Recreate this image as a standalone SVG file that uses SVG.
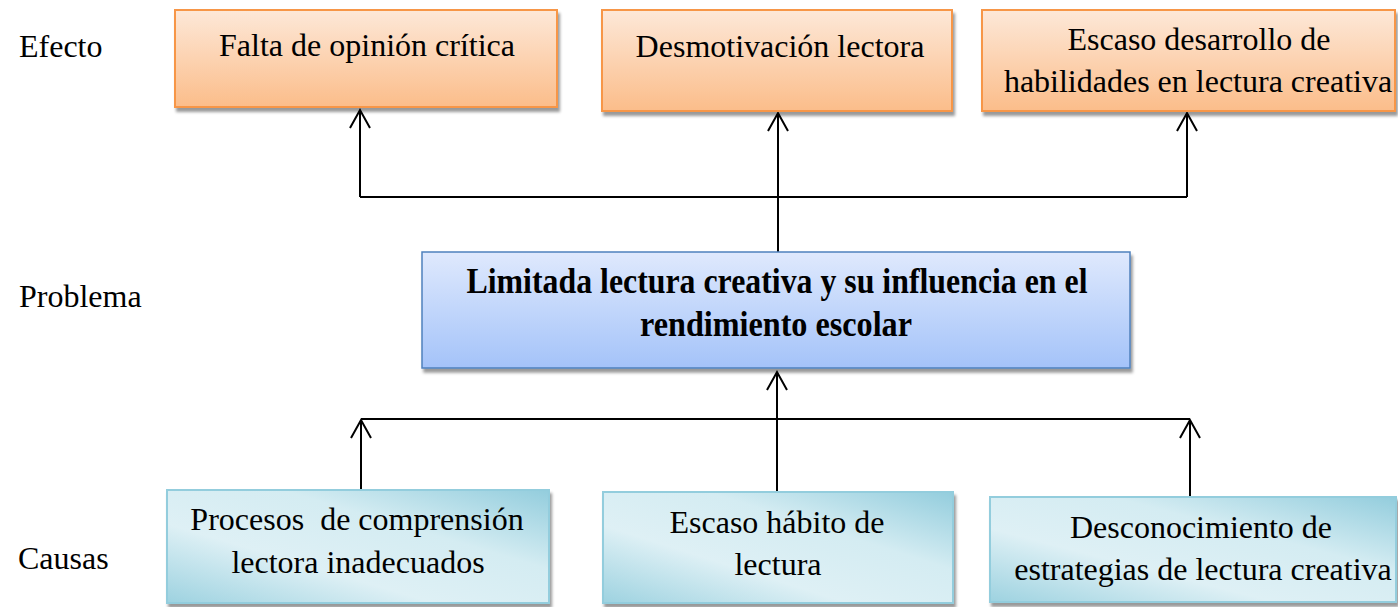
<svg xmlns="http://www.w3.org/2000/svg" width="1398" height="607" viewBox="0 0 1398 607">
<defs>
<linearGradient id="gOr" x1="0" y1="0" x2="0" y2="1">
<stop offset="0" stop-color="#fde8d8"/>
<stop offset="1" stop-color="#fbbd8a"/>
</linearGradient>
<linearGradient id="gBl" x1="0" y1="0" x2="0" y2="1">
<stop offset="0" stop-color="#dfe9fd"/>
<stop offset="1" stop-color="#a4c3f9"/>
</linearGradient>
<linearGradient id="gTe" x1="0" y1="1" x2="1" y2="0">
<stop offset="0" stop-color="#9dd2e0"/>
<stop offset="0.35" stop-color="#def0f5"/>
<stop offset="0.65" stop-color="#d4ecf2"/>
<stop offset="1" stop-color="#93cddd"/>
</linearGradient>
<filter id="sh" x="-5%" y="-10%" width="115%" height="130%">
<feDropShadow dx="2" dy="4" stdDeviation="1.5" flood-color="#000" flood-opacity="0.4"/>
</filter>
<marker id="arr" markerWidth="22" markerHeight="22" refX="19" refY="11" orient="auto" markerUnits="userSpaceOnUse" viewBox="0 0 22 22">
<path d="M1,1 L19,11 L1,21" fill="none" stroke="#000" stroke-width="2"/>
</marker>
</defs>
<style>
.or{fill:url(#gOr);stroke:#f79646;stroke-width:2;filter:url(#sh)}
.bl{fill:url(#gBl);stroke:#4f81bd;stroke-width:1.5;filter:url(#sh)}
.te{fill:url(#gTe);stroke:#93cddd;stroke-width:2;filter:url(#sh)}
.ln{fill:none;stroke:#000;stroke-width:2}
</style>
<rect width="1398" height="607" fill="#fff"/>
<g id="labels">
<text x="19" y="57" font-family="Liberation Serif" font-size="32">Efecto</text>
<text x="19" y="307" font-family="Liberation Serif" font-size="32">Problema</text>
<text x="18" y="569" font-family="Liberation Serif" font-size="32">Causas</text>
</g>
<g id="connectors">
<path class="ln" d="M778,252 V197"/>
<path class="ln" d="M360,197 H1187"/>
<path class="ln" d="M360,197 V110" marker-end="url(#arr)"/>
<path class="ln" d="M778,197 V113" marker-end="url(#arr)"/>
<path class="ln" d="M1187,197 V113" marker-end="url(#arr)"/>
<path class="ln" d="M361,419 H1190"/>
<path class="ln" d="M361,490 V420" marker-end="url(#arr)"/>
<path class="ln" d="M1190,497 V420" marker-end="url(#arr)"/>
<path class="ln" d="M777,492 V372" marker-end="url(#arr)"/>
</g>
<g id="effect1">
<rect class="or" x="175" y="10" width="382" height="97"/>
<text x="367" y="56" font-family="Liberation Serif" font-size="32" text-anchor="middle">Falta de opinión crítica</text>
</g>
<g id="effect2">
<rect class="or" x="602" y="10" width="350" height="101"/>
<text x="780" y="57" font-family="Liberation Serif" font-size="32" text-anchor="middle">Desmotivación lectora</text>
</g>
<g id="effect3">
<rect class="or" x="982" y="10" width="413" height="101"/>
<text x="1199" y="50" font-family="Liberation Serif" font-size="32" text-anchor="middle">Escaso desarrollo de</text>
<text x="1198" y="92" font-family="Liberation Serif" font-size="32" text-anchor="middle">habilidades en lectura creativa</text>
</g>
<g id="problem">
<rect class="bl" x="422" y="252" width="708" height="116"/>
<text x="777" y="293" font-family="Liberation Serif" font-size="35" font-weight="bold" text-anchor="middle" textLength="621" lengthAdjust="spacingAndGlyphs">Limitada lectura creativa y su influencia en el</text>
<text x="776" y="336" font-family="Liberation Serif" font-size="35" font-weight="bold" text-anchor="middle" textLength="272" lengthAdjust="spacingAndGlyphs">rendimiento escolar</text>
</g>
<g id="cause1">
<rect class="te" x="167" y="490" width="382" height="113"/>
<text x="357" y="530" font-family="Liberation Serif" font-size="32" text-anchor="middle" xml:space="preserve">Procesos  de comprensión</text>
<text x="358" y="573" font-family="Liberation Serif" font-size="32" text-anchor="middle">lectora inadecuados</text>
</g>
<g id="cause2">
<rect class="te" x="603" y="492" width="350" height="111"/>
<text x="777" y="533" font-family="Liberation Serif" font-size="32" text-anchor="middle">Escaso hábito de</text>
<text x="778" y="575" font-family="Liberation Serif" font-size="32" text-anchor="middle">lectura</text>
</g>
<g id="cause3">
<rect class="te" x="990" y="497" width="406" height="105"/>
<text x="1201" y="538" font-family="Liberation Serif" font-size="32" text-anchor="middle">Desconocimiento de</text>
<text x="1203" y="580" font-family="Liberation Serif" font-size="32" text-anchor="middle">estrategias de lectura creativa</text>
</g>
</svg>
